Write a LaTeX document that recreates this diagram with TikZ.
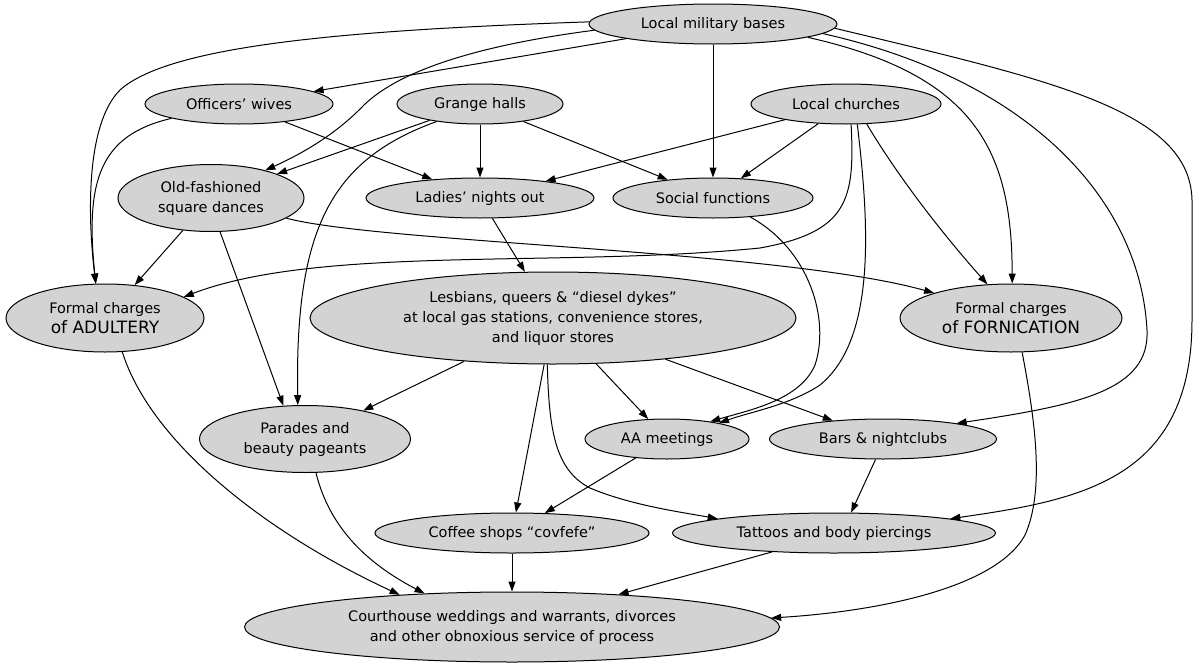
\documentclass[tikz,border=0pt]{standalone}
\usepackage{fontspec}
\setmainfont{DejaVu Sans}
\usetikzlibrary{shapes.geometric,arrows.meta}
\definecolor{nodefill}{RGB}{211,211,211}
\begin{document}
\begin{tikzpicture}[x=1pt,y=-1pt,
  nd/.style={ellipse,draw=black,line width=1pt,fill=nodefill,inner sep=0pt,align=center,
             font=\fontsize{14.5}{20}\selectfont},
  edge/.style={line width=1pt,-{Triangle[length=10pt,width=7pt]}}]
\useasboundingbox (0,0) rectangle (1200,664);
\fill[white] (0,0) rectangle (1200,664);

\node[nd,minimum width=248,minimum height=40] (LMB) at (713,24) {Local military bases};
\node[nd,minimum width=188,minimum height=40] (OW) at (239,104) {Officers’ wives};
\node[nd,minimum width=166,minimum height=40] (GH) at (480,104) {Grange halls};
\node[nd,minimum width=190,minimum height=40] (LC) at (846,104) {Local churches};
\node[nd,minimum width=186,minimum height=67] (OFSD) at (211,198) {Old-fashioned\\square dances};
\node[nd,minimum width=228,minimum height=40] (LNO) at (480,198) {Ladies’ nights out};
\node[nd,minimum width=200,minimum height=40] (SF) at (713,198) {Social functions};
\node[nd,minimum width=198,minimum height=68] (ADULT) at (105,318) {Formal charges\\{\fontsize{17}{20}\selectfont of ADULTERY}};
\node[nd,minimum width=486,minimum height=92] (LESB) at (553,318) {Lesbians, queers \& “diesel dykes”\\at local gas stations, convenience stores,\\and liquor stores};
\node[nd,minimum width=222,minimum height=68] (FORN) at (1011,318) {Formal charges\\{\fontsize{17}{20}\selectfont of FORNICATION}};
\node[nd,minimum width=211,minimum height=67] (PAR) at (305,439) {Parades and\\beauty pageants};
\node[nd,minimum width=164,minimum height=40] (AA) at (667,439) {AA meetings};
\node[nd,minimum width=227,minimum height=40] (BARS) at (883,439) {Bars \& nightclubs};
\node[nd,minimum width=274,minimum height=40] (COF) at (512,533) {Coffee shops “covfefe”};
\node[nd,minimum width=323,minimum height=40] (TAT) at (834,533) {Tattoos and body piercings};
\node[nd,minimum width=535,minimum height=70] (CH) at (512,627) {Courthouse weddings and warrants, divorces\\and other obnoxious service of process};

% from Local military bases
\draw[edge] (LMB) -- (OW);
\draw[edge] (LMB.179) .. controls (350,30) and (170,45) .. (120,90) .. controls (85,125) and (88,220) .. (ADULT.105);
\draw[edge] (LMB.183) .. controls (480,45) and (400,70) .. (364,105) .. controls (340,130) and (310,150) .. (OFSD.27);
\draw[edge] (LMB) -- (SF);
\draw[edge] (LMB.352) .. controls (975,75) and (1012,150) .. (FORN.88);
\draw[edge] (LMB.355) .. controls (1030,80) and (1140,200) .. (1147,330) .. controls (1150,390) and (1080,405) .. (BARS.12);
\draw[edge] (LMB.358) .. controls (1050,80) and (1190,110) .. (1192,200) -- (1192,320) .. controls (1192,480) and (1080,500) .. (TAT.7);
% from Officers' wives
\draw[edge] (OW.192) .. controls (100,135) and (85,180) .. (ADULT.105);
\draw[edge] (OW) -- (LNO);
% from Grange halls
\draw[edge] (GH.198) -- (OFSD.20);
\draw[edge] (GH) -- (LNO);
\draw[edge] (GH) -- (SF);
\draw[edge] (GH.202) .. controls (330,160) and (295,230) .. (PAR.102);
% from Local churches
\draw[edge] (LC) -- (LNO);
\draw[edge] (LC) -- (SF);
\draw[edge] (LC.284) .. controls (855,200) and (848,232) .. (760,248) .. controls (560,268) and (320,245) .. (ADULT.15);
\draw[edge] (LC.299) .. controls (870,230) and (875,340) .. (820,385) .. controls (790,405) and (750,412) .. (AA.17);
\draw[edge] (LC.316) .. controls (902,183) and (948,240) .. (FORN.125);
% from Social functions
\draw[edge] (SF.333) .. controls (810,250) and (830,320) .. (815,365) .. controls (800,400) and (750,410) .. (AA.22);
% from square dances
\draw[edge] (OFSD.229) -- (ADULT.48);
\draw[edge] (OFSD.285) -- (PAR.123);
\draw[edge] (OFSD.345) .. controls (380,243) and (780,250) .. (FORN.162);
% from Ladies' nights out
\draw[edge] (LNO) -- (LESB);
% from Lesbians
\draw[edge] (LESB) -- (PAR);
\draw[edge] (LESB) -- (AA);
\draw[edge] (LESB) -- (BARS);
\draw[edge] (LESB) -- (COF);
\draw[edge] (LESB.263) .. controls (549,430) and (555,470) .. (590,488) .. controls (630,505) and (680,512) .. (TAT.173);
% to Courthouse
\draw[edge] (ADULT.297) .. controls (150,440) and (260,530) .. (CH.164);
\draw[edge] (PAR.288) .. controls (330,530) and (370,565) .. (CH.159);
\draw[edge] (FORN.288) .. controls (1035,420) and (1045,490) .. (1025,535) .. controls (995,590) and (870,612) .. (CH.2);
\draw[edge] (AA) -- (COF);
\draw[edge] (BARS.250) -- (TAT.50);
\draw[edge] (COF) -- (CH);
\draw[edge] (TAT.197) -- (CH.17);
\end{tikzpicture}
\end{document}
